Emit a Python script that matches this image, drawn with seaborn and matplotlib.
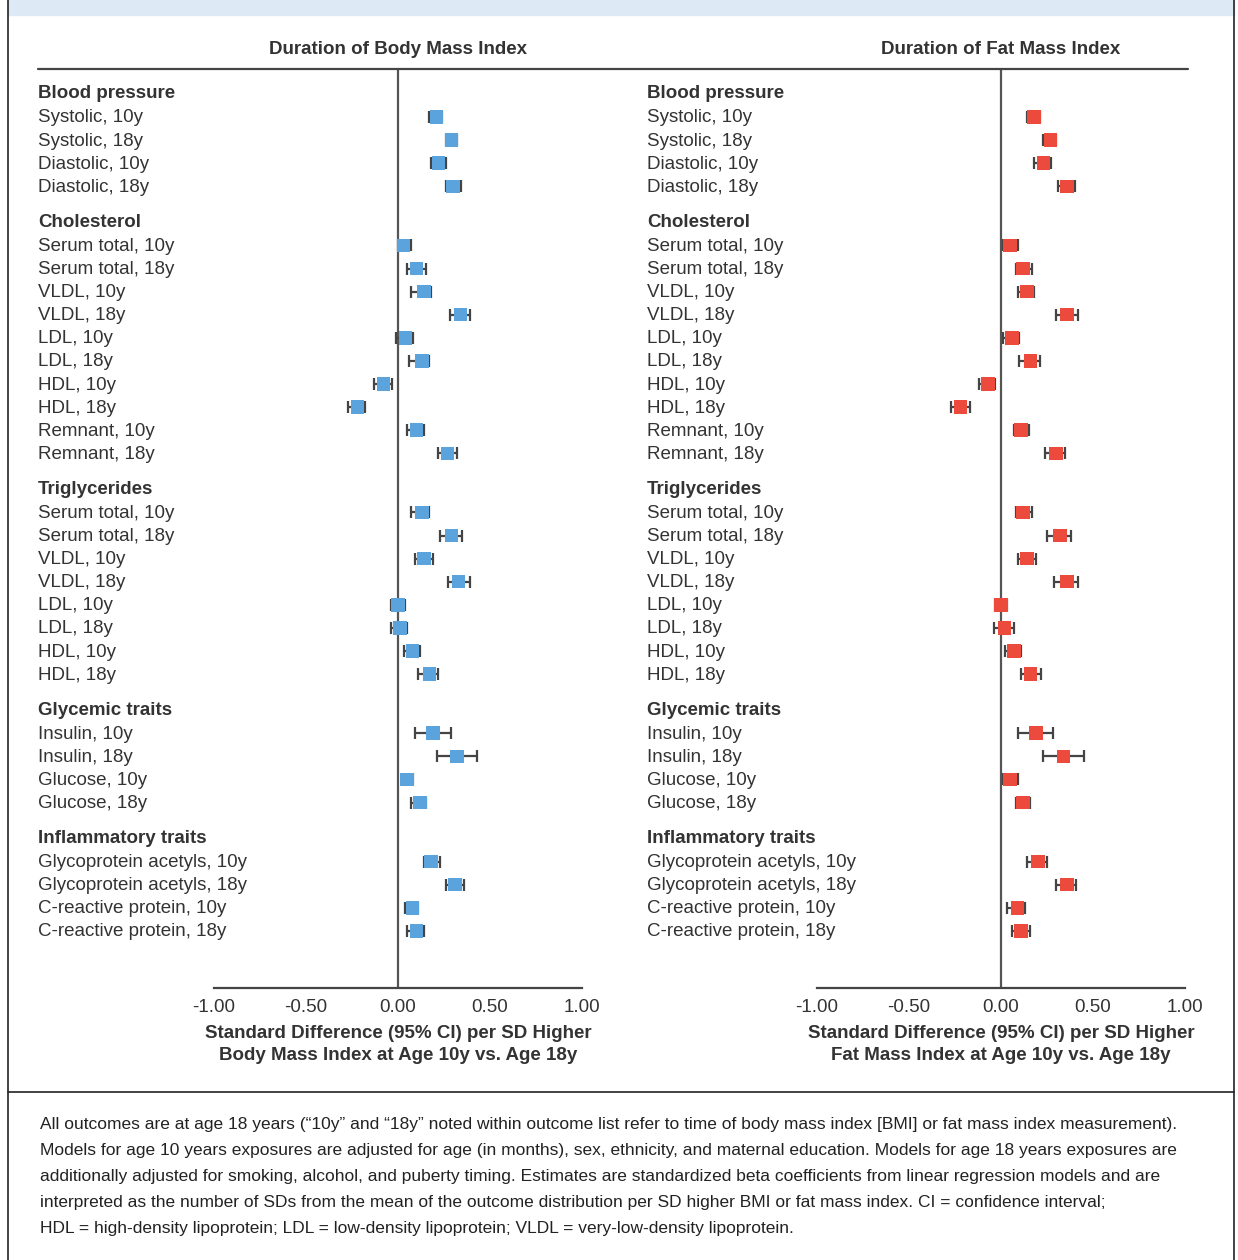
import numpy as np
import matplotlib
matplotlib.use("Agg")
import matplotlib.pyplot as plt
import seaborn as sns

sns.set_theme(style="white")
plt.rcParams['font.family'] = ['Liberation Sans', 'DejaVu Sans']

groups = ["Blood pressure", "Cholesterol", "Triglycerides", "Glycemic traits", "Inflammatory traits"]
items = [
    ["Systolic, 10y", "Systolic, 18y", "Diastolic, 10y", "Diastolic, 18y"],
    ["Serum total, 10y", "Serum total, 18y", "VLDL, 10y", "VLDL, 18y", "LDL, 10y", "LDL, 18y",
     "HDL, 10y", "HDL, 18y", "Remnant, 10y", "Remnant, 18y"],
    ["Serum total, 10y", "Serum total, 18y", "VLDL, 10y", "VLDL, 18y", "LDL, 10y", "LDL, 18y",
     "HDL, 10y", "HDL, 18y"],
    ["Insulin, 10y", "Insulin, 18y", "Glucose, 10y", "Glucose, 18y"],
    ["Glycoprotein acetyls, 10y", "Glycoprotein acetyls, 18y", "C-reactive protein, 10y", "C-reactive protein, 18y"],
]

bmi_est = [0.21, 0.29, 0.22, 0.30,
           0.03, 0.10, 0.14, 0.34, 0.04, 0.13, -0.08, -0.22, 0.10, 0.27,
           0.13, 0.29, 0.14, 0.33, 0.00, 0.01, 0.08, 0.17,
           0.19, 0.32, 0.05, 0.12,
           0.18, 0.31, 0.08, 0.10]
bmi_lo = [0.17, 0.26, 0.18, 0.26,
          0.00, 0.05, 0.07, 0.28, -0.01, 0.06, -0.13, -0.27, 0.05, 0.22,
          0.07, 0.23, 0.09, 0.27, -0.04, -0.04, 0.03, 0.11,
          0.09, 0.21, 0.02, 0.07,
          0.14, 0.26, 0.04, 0.05]
bmi_hi = [0.24, 0.32, 0.26, 0.34,
          0.07, 0.15, 0.18, 0.39, 0.08, 0.17, -0.03, -0.18, 0.14, 0.32,
          0.17, 0.35, 0.19, 0.39, 0.04, 0.05, 0.12, 0.22,
          0.29, 0.43, 0.08, 0.15,
          0.23, 0.36, 0.11, 0.14]

fmi_est = [0.18, 0.27, 0.23, 0.36,
           0.05, 0.12, 0.14, 0.36, 0.06, 0.16, -0.07, -0.22, 0.11, 0.30,
           0.12, 0.32, 0.14, 0.36, 0.00, 0.02, 0.07, 0.16,
           0.19, 0.34, 0.05, 0.12,
           0.20, 0.36, 0.09, 0.11]
fmi_lo = [0.14, 0.23, 0.18, 0.31,
          0.01, 0.08, 0.09, 0.30, 0.01, 0.10, -0.12, -0.27, 0.07, 0.24,
          0.08, 0.25, 0.09, 0.29, -0.03, -0.04, 0.02, 0.11,
          0.09, 0.23, 0.01, 0.08,
          0.14, 0.30, 0.03, 0.06]
fmi_hi = [0.21, 0.30, 0.27, 0.40,
          0.09, 0.17, 0.18, 0.42, 0.10, 0.21, -0.03, -0.17, 0.15, 0.35,
          0.17, 0.38, 0.19, 0.42, 0.03, 0.07, 0.11, 0.22,
          0.28, 0.45, 0.09, 0.16,
          0.25, 0.41, 0.13, 0.16]

# row layout (pixel-like units, inverted axis)
header_y, item_y, labels = [], [], []
y = 93
for g, its in zip(groups, items):
    header_y.append(y)
    y += 24
    for it in its:
        item_y.append(y)
        labels.append(it)
        y += 23.1
    y += 12

W, H = 1238, 1260
fig = plt.figure(figsize=(W / 100, H / 100), dpi=100)
TEXT = "#333333"

def fx(px):
    return px / W

def fy(py):
    return 1 - py / H

# top band and frame
fig.patches.append(plt.Rectangle((fx(8), fy(15)), fx(1226), 15 / H, transform=fig.transFigure,
                                 color="#dde9f5", zorder=0))
for x0 in (8, 1234):
    fig.add_artist(plt.Line2D([fx(x0), fx(x0)], [fy(0), fy(1260)], color="#222222", lw=1.2))
fig.add_artist(plt.Line2D([fx(8), fx(1234)], [fy(1092), fy(1092)], color="#222222", lw=1.2))
fig.add_artist(plt.Line2D([fx(38), fx(1188)], [fy(69), fy(69)], color="#444444", lw=1.6))

panels = [
    (38, 398, "Duration of Body Mass Index", bmi_est, bmi_lo, bmi_hi, "#5ba3dc",
     ["Standard Difference (95% CI) per SD Higher", "Body Mass Index at Age 10y vs. Age 18y"]),
    (647, 1001, "Duration of Fat Mass Index", fmi_est, fmi_lo, fmi_hi, "#ec4a3c",
     ["Standard Difference (95% CI) per SD Higher", "Fat Mass Index at Age 10y vs. Age 18y"]),
]
scale = 184.0
for left_px, zero_px, title, est, lo, hi, col, xlab in panels:
    x_left = (left_px - zero_px) / scale
    right_px = zero_px + scale
    ax = fig.add_axes([fx(left_px), fy(988), (right_px - left_px) / W, (988 - 69) / H])
    ax.set_xlim(x_left, 1.0)
    ax.set_ylim(988, 69)
    est = np.array(est); lo = np.array(lo); hi = np.array(hi)
    ax.errorbar(est, item_y, xerr=[est - lo, hi - est], fmt="none", ecolor="#444444",
                elinewidth=1.6, capsize=4, capthick=1.6, zorder=2)
    sns.scatterplot(x=est, y=item_y, marker="s", s=95, color=col, edgecolor="none", ax=ax, zorder=3)
    ax.axvline(0, color="#555555", lw=1.6, zorder=1)
    for g, hy in zip(groups, header_y):
        ax.text(x_left, hy + 1, g, fontsize=13.5, color=TEXT, va="center", ha="left", fontweight="bold")
    for lab, iy in zip(labels, item_y):
        ax.text(x_left, iy + 1, lab, fontsize=13.5, color=TEXT, va="center", ha="left")
    for s in ("top", "right", "left"):
        ax.spines[s].set_visible(False)
    ax.spines["bottom"].set_bounds(-1, 1)
    ax.spines["bottom"].set_color("#444444")
    ax.spines["bottom"].set_linewidth(1.6)
    ax.set_xticks([-1, -0.5, 0, 0.5, 1])
    ax.set_xticklabels(["-1.00", "-0.50", "0.00", "0.50", "1.00"], fontsize=13.5, color=TEXT)
    ax.tick_params(axis="x", bottom=False, pad=2)
    ax.set_yticks([])
    for k, line in enumerate(xlab):
        fig.text(fx(zero_px), fy(1033 + 23 * k), line, fontsize=13.5, color=TEXT, ha="center",
                 va="center", fontweight="bold")
    fig.text(fx(zero_px), fy(50), title, fontsize=13.5, color=TEXT, ha="center", va="center",
             fontweight="bold")

footer = [
    "All outcomes are at age 18 years (\u201c10y\u201d and \u201c18y\u201d noted within outcome list refer to time of body mass index [BMI] or fat mass index measurement).",
    "Models for age 10 years exposures are adjusted for age (in months), sex, ethnicity, and maternal education. Models for age 18 years exposures are",
    "additionally adjusted for smoking, alcohol, and puberty timing. Estimates are standardized beta coefficients from linear regression models and are",
    "interpreted as the number of SDs from the mean of the outcome distribution per SD higher BMI or fat mass index. CI = confidence interval;",
    "HDL = high-density lipoprotein; LDL = low-density lipoprotein; VLDL = very-low-density lipoprotein.",
]
for i, line in enumerate(footer):
    fig.text(fx(40), fy(1124 + i * 26.2), line, fontsize=12.5, color="#222222", ha="left", va="center")

fig.savefig("out.png", dpi=100)
